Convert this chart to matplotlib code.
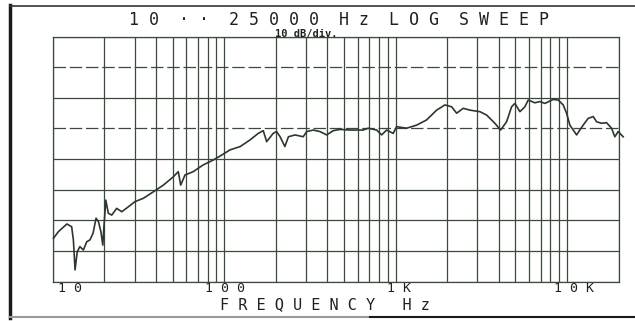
import matplotlib
matplotlib.use("Agg")
import matplotlib.pyplot as plt
from matplotlib import transforms
from matplotlib.lines import Line2D

# frequency response (Hz, dB on a 0..80 scale, 10 dB/div)
freq = [10.1, 10.8, 12.1, 12.9, 13.2, 13.5, 13.9, 14.4, 15.1, 15.8, 16.5, 17.2, 17.9, 18.5, 19.1,
        19.6, 19.9, 20.4, 21.1, 22.1, 23.6, 25.3, 27.6, 30.2, 33.8, 38.6, 44.2, 50.5, 54.0, 55.8,
        59.1, 66.0, 75.5, 86.4, 96.7, 108, 124, 141, 158, 169, 177, 193, 202, 212, 226, 237, 259,
        289, 303, 331, 362, 396, 433, 473, 541, 647, 692, 775, 829, 886, 968, 1013, 1159, 1326,
        1516, 1734, 1939, 2121, 2269, 2479, 2712, 3101, 3393, 3793, 4095, 4438, 4747, 4962, 5307,
        5675, 5932, 6490, 6940, 7423, 8298, 8874, 9491, 9933, 10380, 11360, 12410, 13270, 14200,
        14860, 15890, 16990, 18170, 18990, 19860, 21240]
level = [14.1, 16.3, 18.8, 17.9, 13.6, 3.8, 9.7, 11.4, 10.3, 13.0, 13.6, 15.8, 20.7, 19.5, 16.3,
         11.9, 17.9, 26.6, 22.3, 21.7, 23.9, 22.8, 24.4, 26.1, 27.2, 29.3, 31.5, 34.2, 35.9, 31.5,
         34.8, 35.9, 38.1, 39.7, 41.3, 43.0, 44.1, 46.2, 48.4, 49.3, 45.7, 48.4, 49.0, 47.3, 44.1,
         47.3, 47.9, 47.3, 49.0, 49.5, 49.0, 47.9, 49.3, 49.7, 49.5, 49.5, 50.1, 49.5, 47.9, 49.5,
         48.4, 50.6, 50.1, 51.1, 52.8, 56.0, 57.7, 57.1, 55.0, 56.6, 56.0, 55.5, 54.4, 51.7, 49.5,
         52.2, 57.1, 58.2, 55.5, 57.1, 59.3, 58.4, 58.8, 58.2, 59.5, 59.3, 57.7, 55.0, 51.1, 47.9,
         51.1, 53.3, 53.9, 52.2, 51.7, 51.9, 50.1, 47.3, 49.0, 47.3]

grid_freqs = [m * d for d in (10, 100, 1000) for m in range(1, 10)] + [10000, 20000]
grid_levels = [0, 10, 20, 30, 40, 50, 60, 70, 80]
dashed_levels = [50, 70]
tick_vals = [10, 100, 1000, 10000]
tick_text = ["1 0", "1 0 0", "1 K", "1 0 K"]
tick_shift = [17, 1, 3, 7]  # px, label offset to the right of its line

ink = "#3b4a3d"
mono = "DejaVu Sans Mono"

fig = plt.figure(figsize=(6.35, 3.21), dpi=100)
ax = fig.add_axes([52.7 / 635, 1 - 281.5 / 321, 566 / 635, 244.8 / 321])
ax.set_xscale("log")
ax.set_xlim(10, 20000)
ax.set_ylim(0, 80)

for f in grid_freqs:
    ax.axvline(f, color=ink, lw=0.9, zorder=1)
for lv in grid_levels:
    ls = (0, (10, 3)) if lv in dashed_levels else "-"
    ax.axhline(lv, color=ink, lw=0.9, ls=ls, zorder=1)

ax.plot(freq, level, color="#2c372d", lw=1.2, zorder=3, clip_on=False)

ax.set_xticks([])
ax.set_yticks([])
ax.minorticks_off()
for s in ax.spines.values():
    s.set_color(ink)
    s.set_linewidth(0.9)

trans = transforms.blended_transform_factory(ax.transData, ax.transAxes)
for v, t, dx in zip(tick_vals, tick_text, tick_shift):
    tr = transforms.offset_copy(trans, fig=fig, x=dx, y=0, units="dots")
    ax.text(v, -0.03, t, transform=tr, ha="center", va="center",
            fontsize=9.5, family=mono, color="#1e221e")

fig.text(325 / 635, 1 - 304.5 / 321, "F R E Q U E N C Y   H z", ha="center", va="center",
         fontsize=11, family=mono, color="#1e221e")
fig.text(339 / 635, 1 - 20 / 321, "1 0  · ·  2 5 0 0 0  H z  L O G  S W E E P",
         ha="center", va="center", fontsize=12, family=mono, color="#1e221e")
fig.text(306 / 635, 1 - 33.5 / 321, "10 dB/div.", ha="center", va="center",
         fontsize=7.5, family=mono, weight="bold", color="#1e221e")

# scanned page frame
fig.add_artist(Line2D([10 / 635, 10 / 635], [1 - 5 / 321, 1 - 318 / 321],
                      transform=fig.transFigure, color="#1a1a1a", lw=2.5))
fig.add_artist(Line2D([10 / 635, 1], [1 - 6 / 321, 1 - 6 / 321],
                      transform=fig.transFigure, color="#2d3a2d", lw=1.2))
fig.add_artist(Line2D([10 / 635, 370 / 635], [1 - 317 / 321, 1 - 317 / 321],
                      transform=fig.transFigure, color="#9a9a9a", lw=1.5))
fig.add_artist(Line2D([370 / 635, 1], [1 - 317 / 321, 1 - 317 / 321],
                      transform=fig.transFigure, color="#1a1a1a", lw=1.5))

fig.savefig("out.png", dpi=100)
